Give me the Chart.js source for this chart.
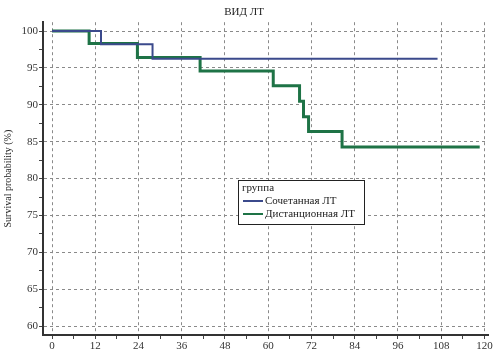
<!DOCTYPE html>
<html>
<head>
<meta charset="utf-8">
<script src="https://cdn.jsdelivr.net/npm/chart.js@4.4.1/dist/chart.umd.min.js"></script>
<style>
    html, body { margin: 0; padding: 0; background: #fff; }
    #wrap { width: 495px; height: 353px; }
</style>
</head>
<body>
<div id="wrap"><canvas id="km"></canvas></div>
<script>
"use strict";
// Kaplan-Meier steps (months, survival %)
var comboMonths = [0, 13.6, 27.9, 107];
var comboSurv = [100, 98.2, 96.25, 96.25];
var distMonths = [0, 10.3, 23.7, 41.1, 61.4, 68.7, 69.8, 71.2, 80.5, 118.7];
var distSurv = [100, 98.3, 96.4, 94.6, 92.6, 90.5, 88.4, 86.4, 84.3, 84.3];

var xTickValues = [0, 6, 12, 18, 24, 30, 36, 42, 48, 54, 60, 66, 72, 78, 84, 90, 96, 102, 108, 114, 120];
var xLabelled = [0, 12, 24, 36, 48, 60, 72, 84, 96, 108, 120];
var yTickValues = [60, 62.5, 65, 67.5, 70, 72.5, 75, 77.5, 80, 82.5, 85, 87.5, 90, 92.5, 95, 97.5, 100];
var yLabelled = [60, 65, 70, 75, 80, 85, 90, 95, 100];

var seriesNames = ["Сочетанная ЛТ", "Дистанционная ЛТ"];
var legendTitle = "группа";

var serif = "'Liberation Serif', 'DejaVu Serif', serif";

function toPoints(xs, ys) {
    return xs.map(function (x, i) { return { x: x, y: ys[i] }; });
}

// legend box drawn inside the plot, like the original
var boxLegend = {
    id: "boxLegend",
    afterDraw: function (chart) {
        var ctx = chart.ctx,
            x = 238, y = 180, w = 126, h = 44;
        ctx.save();
        ctx.fillStyle = "#fff";
        ctx.fillRect(x, y, w, h);
        ctx.strokeStyle = "#222";
        ctx.lineWidth = 1;
        ctx.strokeRect(x + 0.5, y + 0.5, w, h);
        ctx.font = "11px " + serif;
        ctx.fillStyle = "#222";
        ctx.textBaseline = "middle";
        ctx.fillText(legendTitle, x + 4, y + 8);
        chart.data.datasets.forEach(function (ds, i) {
            var ly = y + 21 + i * 13;
            ctx.strokeStyle = ds.borderColor;
            ctx.lineWidth = 2;
            ctx.beginPath();
            ctx.moveTo(x + 5, ly);
            ctx.lineTo(x + 25, ly);
            ctx.stroke();
            ctx.fillStyle = "#222";
            ctx.fillText(ds.label, x + 27, ly);
        });
        ctx.restore();
    }
};

new Chart(document.getElementById("km"), {
    type: "line",
    data: {
        datasets: [
            {
                label: seriesNames[0],
                data: toPoints(comboMonths, comboSurv),
                borderColor: "#3b4a8c",
                borderWidth: 2,
                stepped: "before",
                pointRadius: 0,
                fill: false
            },
            {
                label: seriesNames[1],
                data: toPoints(distMonths, distSurv),
                borderColor: "#1e7346",
                borderWidth: 3,
                stepped: "before",
                pointRadius: 0,
                fill: false
            }
        ]
    },
    options: {
        responsive: true,
        maintainAspectRatio: false,
        animation: false,
        layout: { padding: { top: 0, right: 7, left: 0, bottom: 0 } },
        plugins: {
            legend: { display: false },
            tooltip: { enabled: false },
            title: {
                display: true,
                text: "ВИД ЛТ",
                color: "#222",
                font: { family: serif, size: 11, weight: "normal" },
                padding: { top: 6, bottom: 3 }
            }
        },
        scales: {
            x: {
                type: "linear",
                min: -2.5,
                max: 121,
                afterBuildTicks: function (scale) {
                    scale.ticks = xTickValues.map(function (v) { return { value: v }; });
                },
                afterFit: function (scale) { scale.height = 18; },
                ticks: {
                    autoSkip: false,
                    maxRotation: 0,
                    padding: 1,
                    color: "#333",
                    font: { family: serif, size: 11 },
                    callback: function (v) { return xLabelled.indexOf(v) >= 0 ? String(v) : ""; }
                },
                grid: {
                    color: function (c) {
                        return c.tick && xLabelled.indexOf(c.tick.value) >= 0 ? "#8a8a8a" : "transparent";
                    },
                    tickColor: "#444",
                    tickLength: 4,
                    lineWidth: 1
                },
                border: { display: true, color: "#333", width: 2, dash: [3, 3] }
            },
            y: {
                type: "linear",
                min: 58.8,
                max: 101.2,
                afterBuildTicks: function (scale) {
                    scale.ticks = yTickValues.map(function (v) { return { value: v }; });
                },
                afterFit: function (scale) { scale.width = 43; },
                title: {
                    display: true,
                    text: "Survival probability (%)",
                    color: "#222",
                    font: { family: serif, size: 10 },
                    padding: { top: 2, bottom: 0 }
                },
                ticks: {
                    autoSkip: false,
                    padding: 1,
                    color: "#333",
                    font: { family: serif, size: 11 },
                    callback: function (v) { return yLabelled.indexOf(v) >= 0 ? String(v) : ""; }
                },
                grid: {
                    color: function (c) {
                        return c.tick && yLabelled.indexOf(c.tick.value) >= 0 ? "#8a8a8a" : "transparent";
                    },
                    tickColor: "#444",
                    tickLength: 4,
                    lineWidth: 1
                },
                border: { display: true, color: "#333", width: 2, dash: [3, 3] }
            }
        }
    },
    plugins: [boxLegend]
});
</script>
</body>
</html>
